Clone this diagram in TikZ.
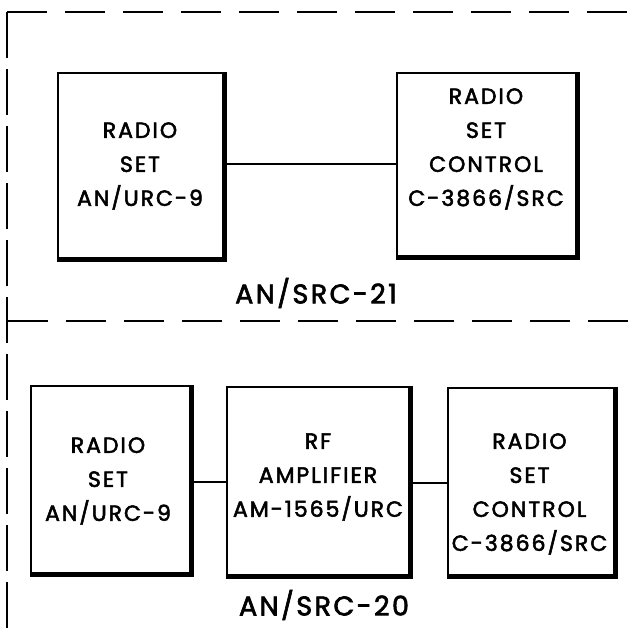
\documentclass[tikz,border=0pt]{standalone}
\usepackage{fontspec}
\setmainfont{Poppins}[LetterSpace=9, FakeBold=2.4]
\begin{document}
\begin{tikzpicture}[x=1pt,y=-1pt,
  unit/.style={draw, line width=2.3pt, inner sep=0pt},
  heavy/.style={line width=4.8pt},
  wire/.style={line width=2pt},
  frame/.style={line width=2pt, dash pattern=on 40pt off 18pt},
  vframe/.style={line width=2pt, dash pattern=on 46pt off 11pt},
  txt/.style={align=center, font={\fontsize{22}{34}\selectfont}, inner sep=0pt},
  lab/.style={font={\fontsize{27}{30}\selectfont}, inner sep=0pt}]
\useasboundingbox (0,0) rectangle (628,628);
% frame
\coordinate (fa) at (7,12);
\coordinate (fb) at (628,12);
\coordinate (fc) at (7,628);
\coordinate (fm) at (8,321);
\coordinate (fn) at (628,321);
\draw[frame] (fa) -- (fb);
\draw[vframe] (fa) -- (fc);
\draw[frame] (fm) -- (fn);
% top system
\node[unit, minimum width=165pt, minimum height=185pt] (T1) at (140.5,165.5) {};
\node[unit, minimum width=179pt, minimum height=183pt] (T2) at (486.5,164.5) {};
\draw[heavy] (T1.north east) -- (T1.south east) -- (T1.south west);
\draw[heavy] (T2.north east) -- (T2.south east) -- (T2.south west);
\draw[wire] ([yshift=1.5pt]T1.east) -- ([yshift=1.5pt]T1.east -| T2.west);
\node[txt] (t1) at (140,166) {RADIO\\SET\\AN/URC-9};
\node[txt] (t2) at (486,149) {RADIO\\SET\\CONTROL\\C-3866/SRC};
\node[lab] (l1) at (316,293) {AN/SRC-21};
% bottom system
\node[unit, minimum width=159pt, minimum height=187pt] (B1) at (110.5,479.5) {};
\node[unit, minimum width=182pt, minimum height=188pt] (B2) at (318,481) {};
\node[unit, minimum width=166pt, minimum height=187pt] (B3) at (531,481.5) {};
\draw[heavy] (B1.north east) -- (B1.south east) -- (B1.south west);
\draw[heavy] (B2.north east) -- (B2.south east) -- (B2.south west);
\draw[heavy] (B3.north east) -- (B3.south east) -- (B3.south west);
\draw[wire] ([yshift=-2pt]B1.east) -- ([yshift=-2pt]B1.east -| B2.west);
\draw[wire] ([yshift=-2pt]B2.east) -- ([yshift=-2pt]B2.east -| B3.west);
\node[txt] (b1) at (108,481) {RADIO\\SET\\AN/URC-9};
\node[txt] (b2) at (318,477) {RF\\AMPLIFIER\\AM-1565/URC};
\node[txt] (b3) at (529.5,494) {RADIO\\SET\\CONTROL\\C-3866/SRC};
\node[lab] (l2) at (324,605) {AN/SRC-20};
\end{tikzpicture}
\end{document}
